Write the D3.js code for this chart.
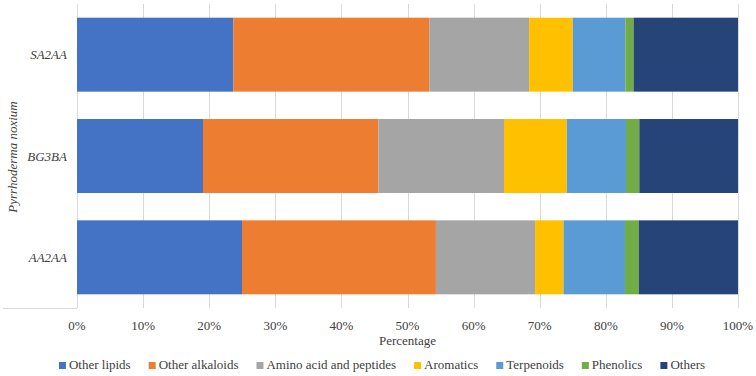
<!DOCTYPE html>
<html>
<head>
    <meta charset="utf-8">
    <style>
        body { margin: 0; background: #fff; }
    </style>
</head>
<body>
    <div id="chart"></div>
    <script src="https://cdn.jsdelivr.net/npm/d3@7"></script>
    <script>
        // categories top to bottom
        var samples = ['SA2AA', 'BG3BA', 'AA2AA'];
        var groups = ['Other lipids', 'Other alkaloids', 'Amino acid and peptides',
            'Aromatics', 'Terpenoids', 'Phenolics', 'Others'];
        var colors = ['#4472C4', '#ED7D31', '#A5A5A5', '#FFC000', '#5B9BD5', '#70AD47', '#264478'];

        // percentages per sample, in group order
        var sa2aa = [23.65, 29.65, 15.1, 6.6, 7.95, 1.25, 15.8];
        var bg3ba = [19.06, 26.54, 19.0, 9.5, 8.95, 2.02, 14.93];
        var aa2aa = [24.96, 29.34, 15.0, 4.3, 9.3, 2.1, 15.0];
        var ticks = [0, 0.1, 0.2, 0.3, 0.4, 0.5, 0.6, 0.7, 0.8, 0.9, 1.0];

        var values = { SA2AA: sa2aa, BG3BA: bg3ba, AA2AA: aa2aa };

        var width = 756;
        var height = 376;
        var margin = { top: 4, right: 18, bottom: 68, left: 77 };

        var svg = d3.select('#chart')
            .append('svg')
            .attr('width', width)
            .attr('height', height);

        var x = d3.scaleLinear()
            .domain([0, 1])
            .range([margin.left, width - margin.right]);

        var y = d3.scaleBand()
            .domain(samples)
            .range([margin.top, height - margin.bottom])
            .paddingInner(0.27)
            .paddingOuter(0.135);

        var rows = samples.map(function (s) {
            var row = { sample: s };
            var total = d3.sum(values[s]);
            groups.forEach(function (g, i) { row[g] = values[s][i] / total; });
            return row;
        });
        var series = d3.stack().keys(groups)(rows);

        // gridlines
        svg.append('g')
            .selectAll('line')
            .data(ticks)
            .enter()
            .append('line')
            .attr('x1', function (d) { return Math.round(x(d)) + 0.5; })
            .attr('x2', function (d) { return Math.round(x(d)) + 0.5; })
            .attr('y1', margin.top)
            .attr('y2', height - margin.bottom)
            .attr('stroke', '#D9D9D9');

        svg.append('line')
            .attr('x1', 3).attr('x2', margin.left)
            .attr('y1', height - margin.bottom + 0.5).attr('y2', height - margin.bottom + 0.5)
            .attr('stroke', '#D9D9D9');

        svg.append('g')
            .selectAll('g')
            .data(series)
            .enter()
            .append('g')
            .attr('fill', function (d, i) { return colors[i]; })
            .selectAll('rect')
            .data(function (d) { return d; })
            .enter()
            .append('rect')
            .attr('x', function (d) { return x(d[0]); })
            .attr('width', function (d) { return x(d[1]) - x(d[0]); })
            .attr('y', function (d) { return y(d.data.sample); })
            .attr('height', y.bandwidth());

        function addText(parent, tx, ty, str, anchor, italic) {
            return parent.append('text')
                .attr('x', tx)
                .attr('y', ty)
                .attr('font-family', 'Liberation Serif')
                .attr('font-size', 13)
                .attr('font-style', italic ? 'italic' : 'normal')
                .attr('fill', '#404040')
                .attr('text-anchor', anchor)
                .text(str);
        }

        var fmt = d3.format('.0%');
        ticks.forEach(function (t) {
            addText(svg, x(t), 330, fmt(t), 'middle', false);
        });

        samples.forEach(function (s) {
            addText(svg, 67, y(s) + y.bandwidth() / 2 + 4.5, s, 'end', true);
        });

        addText(svg, x(0.5), 345, 'Percentage', 'middle', false);
        addText(svg, 0, 0, 'Pyrrhoderma noxium', 'middle', true)
            .attr('transform', 'translate(17,157) rotate(-90)');

        // legend
        var legend = svg.append('g');
        var lx = 0;
        groups.forEach(function (g, i) {
            legend.append('rect')
                .attr('x', lx).attr('y', -7)
                .attr('width', 7).attr('height', 7)
                .attr('fill', colors[i]);
            var t = addText(legend, lx + 10, 0, g, 'start', false);
            lx += 10 + t.node().getComputedTextLength() + 18;
        });
        var lw = lx - 18;
        legend.attr('transform', 'translate(' + (382 - lw / 2) + ',369)');
    </script>
</body>
</html>
